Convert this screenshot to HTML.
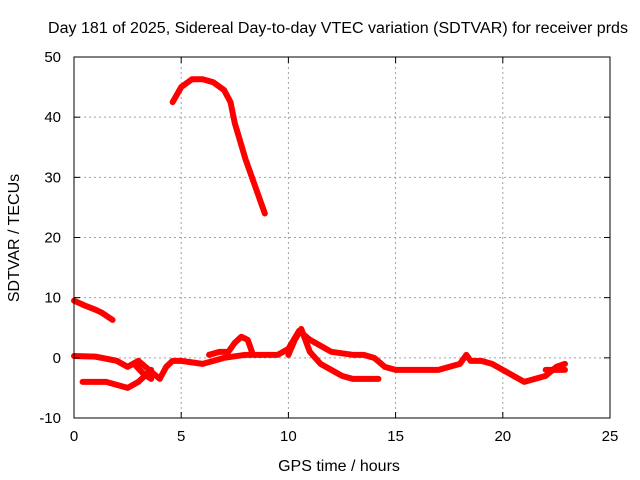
<!DOCTYPE html>
<html><head><meta charset="utf-8"><style>
body{margin:0;background:#fff}
svg{display:block;font-family:"Liberation Sans",sans-serif}
</style></head><body>
<svg id="chart" width="640" height="480">
<text x="338" y="33" font-size="15.5" text-anchor="middle" textLength="580" lengthAdjust="spacingAndGlyphs">Day 181 of 2025, Sidereal Day-to-day VTEC variation (SDTVAR) for receiver prds</text>
<text x="339" y="471" font-size="16" text-anchor="middle">GPS time / hours</text>
<text transform="translate(19,238) rotate(-90)" font-size="16" text-anchor="middle">SDTVAR / TECUs</text>
<g id="grid"></g><g id="series"></g><g id="axes"></g>
</svg>
<script>
const xTicks=[0,5,10,15,20,25];
const yTicks=[-10,0,10,20,30,40,50];
const seriesHigh=[[4.6,42.5],[5,45],[5.5,46.3],[6,46.3],[6.5,45.8],[7,44.5],[7.3,42.5],[7.5,39],[8,33],[8.5,28],[8.9,24]];
const seriesEarly=[[0,9.5],[0.5,8.7],[1,8],[1.3,7.5],[1.8,6.3]];
const seriesLow=[[0.4,-4],[1,-4],[1.5,-4],[2,-4.5],[2.5,-5],[3,-4],[3.3,-3],[3.6,-2]];
const seriesMain=[[0,0.3],[1,0.2],[2,-0.5],[2.5,-1.5],[3,-0.5],[3.5,-2],[4,-3.5],[4.3,-1.5],[4.6,-0.5],[5,-0.5],[6,-1],[6.5,-0.5],[7,0],[8,0.5],[9,0.5],[9.5,0.5],[10,1.5],[10.5,4.5],[11,3],[11.5,2],[12,1],[13,0.5],[13.5,0.5],[14,0],[14.5,-1.5],[15,-2],[16,-2],[17,-2],[17.5,-1.5],[18,-1],[18.3,0.5],[18.5,-0.5],[19,-0.5],[19.5,-1],[20,-2],[20.5,-3],[21,-4],[21.5,-3.5],[22,-3],[22.5,-1.5],[22.9,-1]];
const seriesLoopA=[[2.8,-1],[3.2,-2.5],[3.6,-3.5]];
const seriesLoopB=[[6.3,0.5],[6.8,1],[7.2,1],[7.5,2.5],[7.8,3.5],[8.1,3],[8.3,1]];
const seriesLoopC=[[10,0.5],[10.3,3],[10.6,4.8],[11,1],[11.5,-1],[12,-2],[12.5,-3],[13,-3.5],[14.2,-3.5]];
const seriesLoopD=[[22,-2],[22.9,-2]];
const allSeries=[seriesHigh,seriesEarly,seriesLow,seriesMain,seriesLoopA,seriesLoopB,seriesLoopC,seriesLoopD];
const X0=74,X1=610,Y0=418,Y1=57;
const xs=h=>X0+(h-0)/(25-0)*(X1-X0);
const ys=v=>Y0-(v+10)/(60)*(Y0-Y1);
const NS="http://www.w3.org/2000/svg";
function mk(t,a,p){const e=document.createElementNS(NS,t);for(const k in a)e.setAttribute(k,a[k]);p.appendChild(e);return e;}
const g=document.getElementById('grid'),s=document.getElementById('series'),ax=document.getElementById('axes');
xTicks.forEach(t=>{
 if(t>0&&t<25){const l=mk('line',{x1:xs(t),x2:xs(t),y1:Y1,y2:Y0,stroke:'#a0a0a0','stroke-dasharray':'2,3'},g);
 
 }
 const tx=mk('text',{x:xs(t),y:Y0+23,'font-size':15,'text-anchor':'middle'},ax);tx.textContent=t;
 
 
 mk('line',{x1:xs(t),x2:xs(t),y1:Y0,y2:Y0-6,stroke:'#000'},ax);
 mk('line',{x1:xs(t),x2:xs(t),y1:Y1,y2:Y1+6,stroke:'#000'},ax);
});
yTicks.forEach(t=>{
 if(t>-10&&t<50){const l=mk('line',{x1:X0,x2:X1,y1:ys(t),y2:ys(t),stroke:'#a0a0a0','stroke-dasharray':'2,3'},g);
 
 }
 const tx=mk('text',{x:X0-13,y:ys(t)+5,'font-size':15,'text-anchor':'end'},ax);tx.textContent=t;
 
 
 mk('line',{x1:X0,x2:X0+6,y1:ys(t),y2:ys(t),stroke:'#000'},ax);
 mk('line',{x1:X1,x2:X1-6,y1:ys(t),y2:ys(t),stroke:'#000'},ax);
});
const fr=mk('rect',{x:X0,y:Y1,width:X1-X0,height:Y0-Y1,fill:'none',stroke:'#000'},ax);


allSeries.forEach(d=>{
 const p=mk('polyline',{points:d.map(q=>xs(q[0])+','+ys(q[1])).join(' '),fill:'none',stroke:'#ff0000','stroke-width':6,'stroke-linejoin':'round','stroke-linecap':'round'},s);
 
 
});
</script>
</body></html>
